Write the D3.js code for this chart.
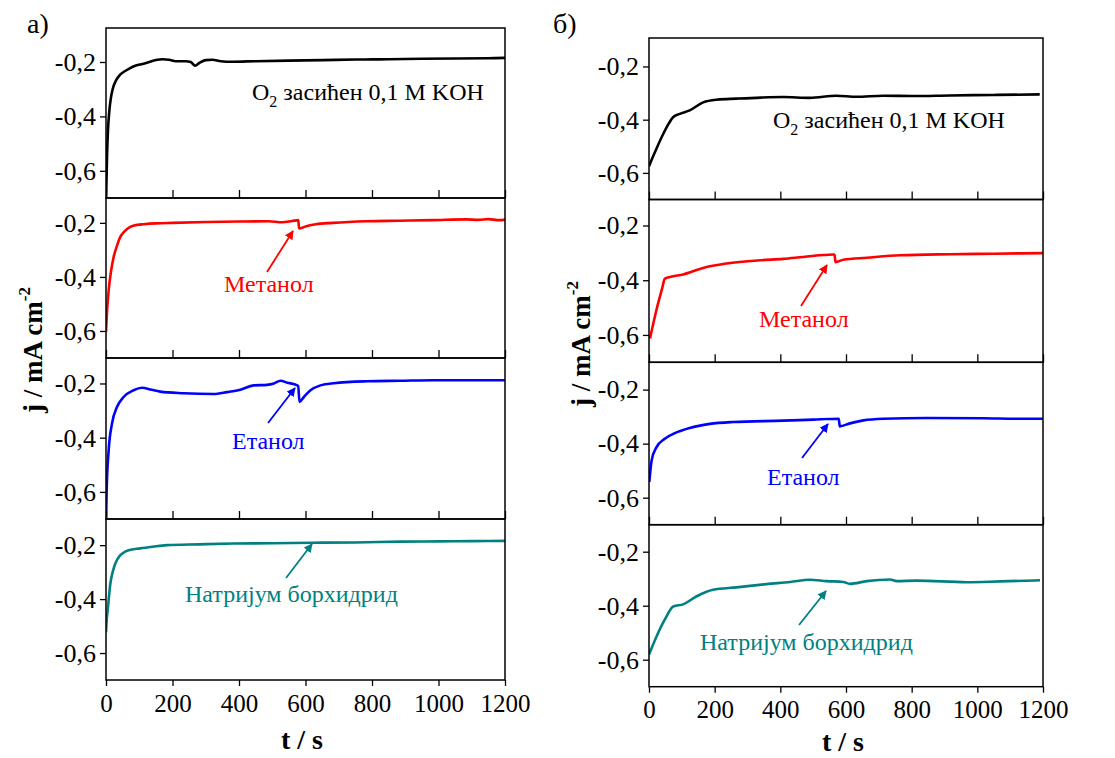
<!DOCTYPE html>
<html>
<head>
<meta charset="utf-8">
<script src="https://cdn.jsdelivr.net/npm/d3@7"></script>
<style>
  body { margin: 0; background: #fff; }
  svg text { font-family: "Liberation Serif", "Times New Roman", serif; }
</style>
</head>
<body>
<div id="chart"></div>
<script>
// DATA (t in s, j in mA cm^-2)

const xTicks = [0, 200, 400, 600, 800, 1000, 1200];
const yTicks = [-0.2, -0.4, -0.6];

// a) left column
const a_O2 = [[0,-0.72],[3,-0.55],[6,-0.45],[10,-0.38],[15,-0.33],[20,-0.3],[30,-0.268],[40,-0.25],[55,-0.235],[70,-0.224],[90,-0.213],[110,-0.207],[130,-0.2],[150,-0.193],[170,-0.19],[190,-0.192],[210,-0.197],[240,-0.197],[255,-0.2],[268,-0.214],[282,-0.202],[300,-0.193],[320,-0.192],[345,-0.197],[380,-0.199],[450,-0.197],[550,-0.195],[650,-0.193],[750,-0.191],[850,-0.19],[950,-0.188],[1050,-0.187],[1150,-0.186],[1200,-0.185]];
const a_MeOH = [[0,-0.604],[3,-0.53],[8,-0.45],[15,-0.38],[23,-0.326],[33,-0.285],[43,-0.252],[55,-0.232],[73,-0.215],[95,-0.207],[113,-0.205],[150,-0.202],[200,-0.2],[300,-0.197],[400,-0.195],[490,-0.194],[530,-0.198],[560,-0.193],[578,-0.19],[581,-0.221],[600,-0.213],[631,-0.205],[682,-0.2],[782,-0.194],[880,-0.192],[982,-0.19],[1083,-0.187],[1120,-0.189],[1150,-0.186],[1183,-0.19],[1200,-0.188]];
const a_EtOH = [[0,-0.72],[2,-0.595],[8,-0.447],[18,-0.348],[33,-0.287],[53,-0.25],[83,-0.225],[108,-0.216],[133,-0.222],[163,-0.23],[233,-0.236],[323,-0.239],[364,-0.232],[404,-0.223],[444,-0.207],[484,-0.205],[505,-0.2],[525,-0.19],[545,-0.197],[575,-0.207],[578,-0.21],[582,-0.268],[595,-0.25],[615,-0.225],[645,-0.207],[685,-0.199],[785,-0.192],[885,-0.19],[985,-0.188],[1100,-0.188],[1200,-0.188]];
const a_NaBH4 = [[0,-0.523],[2,-0.48],[5,-0.443],[13,-0.343],[20,-0.3],[28,-0.268],[43,-0.237],[55,-0.226],[68,-0.219],[103,-0.212],[140,-0.206],[183,-0.2],[280,-0.197],[384,-0.194],[500,-0.193],[620,-0.191],[750,-0.19],[886,-0.187],[1000,-0.186],[1100,-0.185],[1200,-0.184]];

// б) right column
const b_O2 = [[0,-0.575],[10,-0.545],[23,-0.508],[44,-0.452],[60,-0.415],[74,-0.39],[94,-0.378],[124,-0.365],[165,-0.335],[206,-0.325],[267,-0.321],[340,-0.317],[409,-0.315],[490,-0.318],[571,-0.31],[632,-0.314],[713,-0.31],[800,-0.311],[916,-0.309],[1050,-0.307],[1190,-0.305]];
const b_MeOH = [[3,-0.613],[23,-0.507],[40,-0.43],[48,-0.395],[64,-0.388],[104,-0.379],[165,-0.355],[236,-0.339],[338,-0.327],[409,-0.322],[470,-0.315],[561,-0.306],[565,-0.307],[568,-0.334],[592,-0.325],[663,-0.318],[765,-0.309],[916,-0.305],[1050,-0.303],[1200,-0.301]];
const b_EtOH = [[1,-0.542],[8,-0.462],[23,-0.413],[48,-0.382],[79,-0.361],[124,-0.342],[185,-0.327],[256,-0.32],[409,-0.315],[500,-0.311],[578,-0.308],[581,-0.336],[612,-0.325],[653,-0.314],[714,-0.308],[846,-0.305],[1019,-0.306],[1120,-0.308],[1200,-0.308]];
const b_NaBH4 = [[0,-0.581],[23,-0.514],[48,-0.452],[74,-0.403],[104,-0.395],[144,-0.366],[195,-0.341],[266,-0.332],[358,-0.32],[430,-0.312],[490,-0.304],[541,-0.309],[592,-0.312],[612,-0.319],[663,-0.309],[734,-0.303],[754,-0.309],[815,-0.307],[968,-0.313],[1069,-0.31],[1191,-0.306]];

const seriesColors = ["#000000", "#ff0000", "#0000ff", "#008080"];
const annotationTexts = ["засићен 0,1 M KOH", "Метанол", "Етанол", "Натријум борхидрид"];

// LAYOUT

const W = 1115, H = 758;
const SERIF = "Liberation Serif";

const columns = [
  {
    label: "а)",
    labelPos: [27, 33],
    x0: 106, x1: 505,
    tops: [28, 198, 358, 519],
    bottoms: [198, 358, 519, 680],
    ymax: [-0.075, -0.108, -0.106, -0.103],
    series: [a_O2, a_MeOH, a_EtOH, a_NaBH4],
    ylabelPos: [42, 350],
    xlabelPos: [302, 749],
    notes: [
      { x: 252, y: 100 },
      { x: 224, y: 292, arrow: [267, 272, 293, 231] },
      { x: 232, y: 449, arrow: [268, 423, 295, 388] },
      { x: 185, y: 602, arrow: [286, 578, 312, 544] }
    ]
  },
  {
    label: "б)",
    labelPos: [553, 33],
    x0: 649, x1: 1043,
    tops: [38, 199.5, 362.3, 524.7],
    bottoms: [199.5, 362.3, 524.7, 686.7],
    ymax: [-0.093, -0.105, -0.099, -0.1],
    series: [b_O2, b_MeOH, b_EtOH, b_NaBH4],
    ylabelPos: [590, 344],
    xlabelPos: [843, 751],
    notes: [
      { x: 773, y: 128 },
      { x: 759, y: 327, arrow: [801, 306, 827, 265] },
      { x: 767, y: 485, arrow: [802, 458, 828, 424] },
      { x: 700, y: 650, arrow: [799, 625, 826, 591] }
    ]
  }
];

const fmt = (v) => d3.format(".1f")(v).replace(".", ",").replace("−", "-");

const svg = d3
  .select("#chart")
  .append("svg")
  .attr("width", W)
  .attr("height", H);

const defs = svg.append("defs");

// arrowheads, one per colour
seriesColors.forEach((c, i) => {
  defs
    .append("marker")
    .attr("id", "arrow" + i)
    .attr("viewBox", "0 0 10 10")
    .attr("refX", 9)
    .attr("refY", 5)
    .attr("markerWidth", 5)
    .attr("markerHeight", 5)
    .attr("orient", "auto")
    .append("path")
    .attr("d", "M0,0 L10,5 L0,10 Z")
    .attr("fill", c);
});

columns.forEach((col, ci) => {
  const g = svg.append("g");

  const x = d3.scaleLinear().domain([0, 1200]).range([col.x0, col.x1]);

  col.series.forEach((data, pi) => {
    const top = col.tops[pi];
    const bottom = col.bottoms[pi];
    const y = d3.scaleLinear().domain([-0.7, col.ymax[pi]]).range([bottom, top]);

    const clipId = `clip-${ci}-${pi}`;
    defs
      .append("clipPath")
      .attr("id", clipId)
      .append("rect")
      .attr("x", col.x0)
      .attr("y", top)
      .attr("width", col.x1 - col.x0)
      .attr("height", bottom - top);

    // data line
    g.append("path")
      .datum(data)
      .attr("clip-path", `url(#${clipId})`)
      .attr("fill", "none")
      .attr("stroke", seriesColors[pi])
      .attr("stroke-width", 2.6)
      .attr("stroke-linejoin", "round")
      .attr("d", d3.line().x((d) => x(d[0])).y((d) => y(d[1])).curve(d3.curveMonotoneX));

    // y axis
    const yAxis = g
      .append("g")
      .attr("transform", `translate(${col.x0},0)`)
      .call(d3.axisLeft(y).tickValues(yTicks).tickSize(6).tickPadding(4).tickFormat(fmt));
    yAxis.select(".domain").remove();
    yAxis.selectAll("line").attr("stroke", "#000").attr("stroke-width", 1.3);
    yAxis
      .selectAll("text")
      .attr("fill", "#000")
      .attr("font-family", SERIF)
      .attr("font-size", 26);

    // x ticks: inward at the bottom of upper panels, outward on the last one
    const last = pi === col.series.length - 1;
    const xAxis = g
      .append("g")
      .attr("transform", `translate(0,${bottom})`)
      .call(
        (last ? d3.axisBottom(x) : d3.axisTop(x))
          .tickValues(xTicks)
          .tickSize(last ? 6 : 8)
          .tickPadding(8)
          .tickFormat(last ? d3.format("d") : "")
      );
    xAxis.select(".domain").remove();
    xAxis.selectAll("line").attr("stroke", "#000").attr("stroke-width", 1.3);
    xAxis
      .selectAll("text")
      .attr("fill", "#000")
      .attr("font-family", SERIF)
      .attr("font-size", 25);

    // frame
    g.append("rect")
      .attr("x", col.x0)
      .attr("y", top)
      .attr("width", col.x1 - col.x0)
      .attr("height", bottom - top)
      .attr("fill", "none")
      .attr("stroke", "#000")
      .attr("stroke-width", 1.5);

    // annotation text + arrow
    const note = col.notes[pi];
    const t = g
      .append("text")
      .attr("x", note.x)
      .attr("y", note.y)
      .attr("fill", seriesColors[pi])
      .attr("font-family", SERIF)
      .attr("font-size", 24);
    if (pi === 0) {
      t.append("tspan").text("O");
      t.append("tspan").attr("dy", 7).attr("font-size", 16).text("2");
      t.append("tspan").attr("dy", -7).text(" " + annotationTexts[0]);
    } else {
      t.text(annotationTexts[pi]);
    }
    if (note.arrow) {
      g.append("line")
        .attr("x1", note.arrow[0])
        .attr("y1", note.arrow[1])
        .attr("x2", note.arrow[2])
        .attr("y2", note.arrow[3])
        .attr("stroke", seriesColors[pi])
        .attr("stroke-width", 1.8)
        .attr("marker-end", `url(#arrow${pi})`);
    }
  });

  // panel label
  g.append("text")
    .attr("x", col.labelPos[0])
    .attr("y", col.labelPos[1])
    .attr("font-family", SERIF)
    .attr("font-size", 28)
    .text(col.label);

  // axis titles
  const yl = g
    .append("text")
    .attr("transform", `translate(${col.ylabelPos[0]},${col.ylabelPos[1]}) rotate(-90)`)
    .attr("text-anchor", "middle")
    .attr("font-family", SERIF)
    .attr("font-size", 27)
    .attr("font-weight", "bold");
  yl.append("tspan").text("j / mA cm");
  yl.append("tspan").attr("dy", -12).attr("font-size", 17).text("-2");

  g.append("text")
    .attr("x", col.xlabelPos[0])
    .attr("y", col.xlabelPos[1])
    .attr("text-anchor", "middle")
    .attr("font-family", SERIF)
    .attr("font-size", 28)
    .attr("font-weight", "bold")
    .text("t / s");
});
</script>
</body>
</html>
